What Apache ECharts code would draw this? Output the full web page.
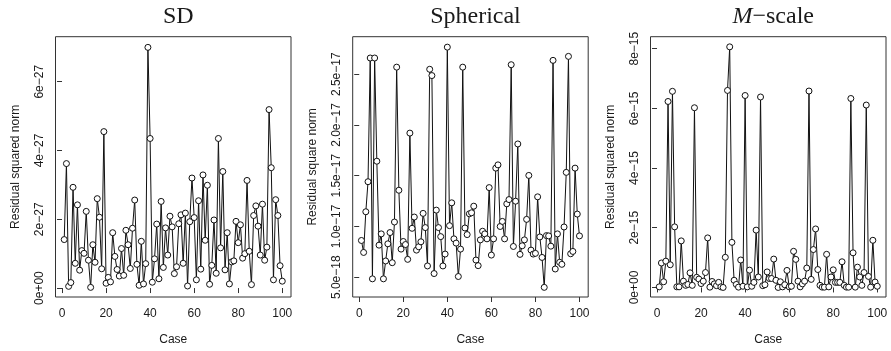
<!DOCTYPE html>
<html>
<head>
<meta charset="utf-8">
<script src="https://cdn.jsdelivr.net/npm/echarts@6/dist/echarts.min.js"></script>
<style>html,body{margin:0;padding:0;background:#fff}#c{width:891px;height:351px}</style>
</head>
<body>
<div id="c"></div>
<script>
// Case index 1..100
const cases = Array.from({length: 100}, (_, i) => i + 1);

// SD panel: residual squared norm, in units of 1e-27
const sdNorm = [1.41,3.62,0.05,0.16,2.93,0.72,2.42,0.52,1.09,1.01,
  2.23,0.81,0.02,1.26,0.75,2.60,2.06,0.56,4.55,0.14,
  0.31,0.18,1.61,0.92,0.54,0.35,1.15,0.37,1.68,1.26,
  0.57,1.74,2.56,0.69,0.08,1.36,0.12,0.71,7.00,4.35,
  0.17,0.85,1.86,0.27,2.52,0.60,1.75,0.96,2.09,1.78,
  0.42,0.62,1.87,2.13,0.72,2.18,0.06,1.93,3.20,2.05,
  0.24,2.54,0.55,3.29,1.39,2.99,0.11,0.66,1.98,0.43,
  4.35,1.17,3.39,0.53,1.61,0.12,0.76,0.79,1.94,1.32,
  1.84,0.87,1.00,3.13,1.07,0.10,2.11,2.39,1.80,0.96,
  2.44,0.81,1.19,5.19,3.50,0.24,2.57,2.11,0.65,0.20];

// Spherical panel: residual square norm, in units of 1e-17
const sphNorm = [0.862,0.744,1.145,1.441,2.66,0.484,2.66,1.643,0.816,0.927,
  0.484,0.66,0.829,0.94,0.643,1.044,2.57,1.357,0.777,0.852,
  0.822,0.676,1.92,0.982,1.093,0.767,0.80,0.849,1.129,0.989,
  0.611,2.549,2.487,0.536,1.161,0.989,0.90,0.611,0.728,2.767,
  1.008,1.233,0.878,0.836,0.507,0.777,2.57,0.985,0.92,1.125,
  1.135,1.20,0.669,0.614,0.868,0.953,0.927,0.878,1.383,0.718,
  0.878,1.575,1.607,1.0,1.05,0.878,1.223,1.265,2.594,0.803,
  1.249,1.813,0.725,0.81,0.868,1.07,1.503,0.767,0.728,0.735,
  1.292,0.897,0.695,0.40,0.91,0.907,0.806,2.637,0.581,0.927,
  0.647,0.627,0.995,1.533,2.676,0.731,0.754,1.575,1.122,0.907];

// M-scale panel: residual squared norm, in units of 1e-15
const mscNorm = [0.02,0.82,0.19,0.88,6.23,0.76,6.57,2.03,0.02,0.02,
  1.56,0.21,0.07,0.10,0.49,0.07,6.02,0.34,0.28,0.13,
  0.21,0.50,1.66,0.01,0.20,0.12,0.06,0.17,0.02,0.00,
  1.01,6.60,8.06,1.51,0.24,0.10,0.01,0.92,0.04,6.43,
  0.02,0.58,0.04,0.17,1.92,0.35,6.38,0.06,0.09,0.52,
  0.30,0.30,0.95,0.24,0.00,0.19,0.02,0.09,0.57,0.02,
  0.04,1.21,0.94,0.21,0.02,0.12,0.21,0.65,6.58,0.27,
  1.27,1.96,0.60,0.07,0.01,0.01,1.11,0.02,0.35,0.59,
  0.17,0.17,0.17,0.86,0.07,0.01,0.01,6.33,1.16,0.01,
  0.68,0.35,0.07,0.50,6.11,0.37,0.01,1.58,0.18,0.04];

const panelTitles = ['SD', 'Spherical', '{i|M}\u2212scale'];
const yNames = ['Residual squared norm', 'Residual square norm', 'Residual squared norm'];
const xTicks = [0, 20, 40, 60, 80, 100];
const sdTicks = [0, 2, 4, 6];
const sdTickLabels = ['0e+00', '2e\u221227', '4e\u221227', '6e\u221227'];
const sphTicks = [0.5, 1.0, 1.5, 2.0, 2.5];
const sphTickLabels = ['5.0e\u221218', '1.0e\u221217', '1.5e\u221217', '2.0e\u221217', '2.5e\u221217'];
const mscTicks = [0, 2, 4, 6, 8];
const mscTickLabels = ['0e+00', '2e\u221215', '4e\u221215', '6e\u221215', '8e\u221215'];

const panels = [
  {vals: sdNorm, ticks: sdTicks, labels: sdTickLabels, min: -0.26, max: 7.31},
  {vals: sphNorm, ticks: sphTicks, labels: sphTickLabels, min: 0.305, max: 2.87},
  {vals: mscNorm, ticks: mscTicks, labels: mscTickLabels, min: -0.32, max: 8.40}
];
const lefts = [55.5, 352.7, 650.5];
const W = 235.5, TOP = 36.7, H = 262.3;
const sans = 'Liberation Sans, Arial, sans-serif';
const ink = '#1a1a1a';

const option = {
  animation: false,
  backgroundColor: '#fff',
  title: panels.map((p, i) => ({
    text: panelTitles[i],
    left: lefts[i] + W / 2,
    top: 0,
    textAlign: 'center',
    textStyle: {
      fontFamily: 'Liberation Serif, Times New Roman, serif',
      fontSize: 24, fontWeight: 'normal', color: ink,
      rich: {i: {fontFamily: 'Liberation Serif, serif', fontStyle: 'italic', fontSize: 24, color: ink}}
    }
  })),
  grid: panels.map((p, i) => ({
    left: lefts[i], top: TOP, width: W, height: H,
    show: true, borderColor: '#333', borderWidth: 1, backgroundColor: 'transparent'
  })),
  xAxis: panels.map((p, i) => ({
    gridIndex: i, type: 'value', min: -2.96, max: 103.96,
    name: 'Case', nameLocation: 'middle', nameGap: 37,
    nameTextStyle: {fontFamily: sans, fontSize: 12, color: ink},
    axisLine: {show: false},
    axisTick: {show: true, inside: false, length: 5, customValues: xTicks, lineStyle: {color: '#333'}},
    axisLabel: {customValues: xTicks, margin: 11, fontFamily: sans, fontSize: 12, color: ink},
    splitLine: {show: false}
  })),
  yAxis: panels.map((p, i) => ({
    gridIndex: i, type: 'value', min: p.min, max: p.max,
    name: yNames[i], nameLocation: 'middle', nameGap: 34, nameRotate: 90,
    nameTextStyle: {fontFamily: sans, fontSize: 12, color: ink},
    axisLine: {show: false},
    axisTick: {show: true, inside: false, length: 5, customValues: p.ticks, lineStyle: {color: '#333'}},
    axisLabel: {
      customValues: p.ticks, rotate: 90, margin: 10, fontFamily: sans, fontSize: 12, color: ink,
      formatter: v => { const k = p.ticks.findIndex(t => Math.abs(t - v) < 1e-9); return k >= 0 ? p.labels[k] : ''; }
    },
    splitLine: {show: false}
  })),
  series: panels.map((p, i) => ({
    type: 'line', xAxisIndex: i, yAxisIndex: i,
    data: cases.map((c, k) => [c, p.vals[k]]),
    symbol: 'circle', symbolSize: 6, showSymbol: true,
    lineStyle: {color: '#111', width: 1},
    itemStyle: {color: '#fff', borderColor: '#111', borderWidth: 1},
    z: 3
  }))
};

const chart = echarts.init(document.getElementById('c'), null, {renderer: 'canvas'});
chart.setOption(option);
</script>
</body>
</html>
